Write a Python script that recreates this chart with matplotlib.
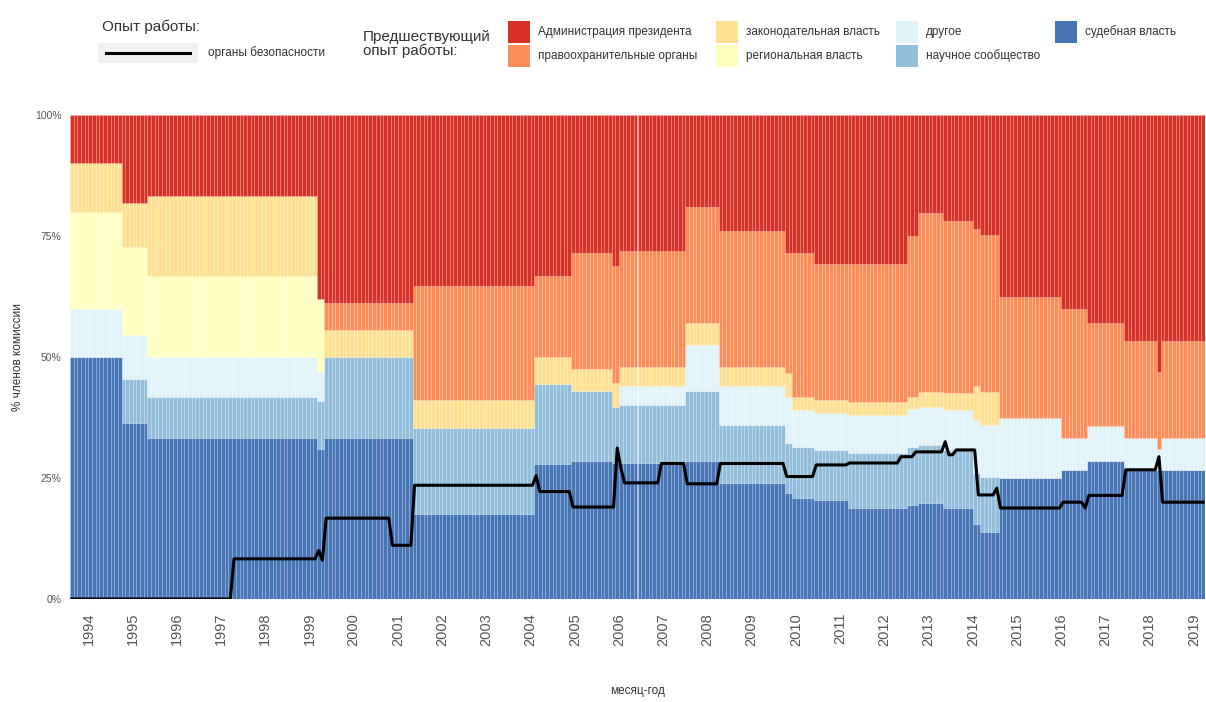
import numpy as np
import matplotlib
matplotlib.use("Agg")
import matplotlib.pyplot as plt
from matplotlib.patches import Rectangle
from matplotlib.lines import Line2D

plt.rcParams['font.family'] = ['Liberation Sans', 'DejaVu Sans']

# composition of the commission, piecewise by period (start = decimal year), % of members
seg_start = [1993.58, 1994.74, 1995.29, 1999.10, 1999.27, 2001.31, 2004.05, 2004.88, 2005.83,
             2006.00, 2007.48, 2008.20, 2009.69, 2009.85, 2010.37, 2011.13, 2012.49, 2012.71,
             2013.30, 2013.98, 2014.09, 2014.55, 2015.94, 2016.57, 2017.34, 2018.09, 2018.17]
judicial    = [50, 36.4, 33.3, 31, 33.3, 17.6, 27.8, 28.6, 28, 28, 28.6, 24, 21.8, 20.8, 20.5, 18.7,
               19.4, 19.8, 18.7, 15.5, 13.9, 25, 26.7, 28.6, 26.7, 26.7, 26.7]
science     = [0, 9.1, 8.4, 10, 16.7, 17.7, 16.6, 14.3, 11.7, 12, 14.3, 12, 10.4, 10.7, 10.3, 11.4,
               12.1, 12, 12.1, 10.5, 11.4, 0, 0, 0, 0, 0, 0]
other       = [10, 9.0, 8.3, 6, 0, 0, 0, 0, 0, 4, 9.5, 8, 9.6, 7.5, 7.6, 7.9,
               7.7, 7.9, 8.2, 11, 10.7, 12.5, 6.6, 7.1, 6.6, 4.3, 6.6]
regional    = [20, 18.2, 16.7, 15, 0, 0, 0, 0, 0, 0, 0, 0, 0, 0, 0, 0,
               0, 0, 0, 0, 0, 0, 0, 0, 0, 0, 0]
legislative = [10, 9.1, 16.6, 0, 5.6, 5.9, 5.6, 4.7, 4.9, 4, 4.7, 4, 4.8, 2.8, 2.7, 2.8,
               2.6, 3.1, 3.5, 7, 6.8, 0, 0, 0, 0, 0, 0]
law_enf     = [0, 0, 0, 0, 5.5, 23.5, 16.7, 23.8, 24.1, 24, 23.9, 28, 24.8, 29.6, 28.2, 28.5,
               33.1, 36.9, 35.5, 32.5, 32.4, 25, 26.7, 21.4, 20, 16, 20]
admin       = [10, 18.2, 16.7, 38, 38.9, 35.3, 33.3, 28.6, 31.3, 28, 19, 24, 28.6, 28.6, 30.7, 30.7,
               25.1, 20.3, 22, 23.5, 24.8, 37.5, 40, 42.9, 46.7, 53, 46.7]

# share with security-service background (black line)
line_start = [1993.58, 1997.25, 1999.10, 1999.19, 1999.30, 2000.77, 2001.31, 2004.05, 2004.13,
              2004.88, 2005.87, 2005.95, 2006.03, 2006.84, 2007.48, 2008.20, 2009.69, 2010.37,
              2011.13, 2012.33, 2012.62, 2013.27, 2013.35, 2013.55, 2014.03, 2014.47, 2014.55,
              2015.94, 2016.49, 2016.57, 2017.34, 2018.09, 2018.17, 2018.42, 2018.50]
security   = [0, 8.3, 10, 8, 16.7, 11.1, 23.5, 25.5, 22.2,
              19.0, 31.2, 27, 24, 28, 23.8, 28, 25.3, 27.7,
              28.1, 29.4, 30.4, 32.5, 29.8, 30.8, 21.5, 22.9, 18.8,
              20, 18.8, 21.4, 26.7, 29.4, 20, 18.8, 20]

cat_names = ["судебная власть", "научное сообщество", "другое", "региональная власть",
             "законодательная власть", "правоохранительные органы", "Администрация президента"]
cat_colors = ["#4575b4", "#91bfdb", "#e0f3f8", "#ffffbf", "#fee090", "#fc8d59", "#d73027"]
series = [judicial, science, other, regional, legislative, law_enf, admin]

years = list(range(1994, 2020))

# monthly grid Aug 1993 .. Mar 2019
months = 1993 + 7 / 12 + np.arange(308) / 12
idx = np.searchsorted(seg_start, months + 1e-6, side="right") - 1
lidx = np.searchsorted(line_start, months + 1e-6, side="right") - 1

fig = plt.figure(figsize=(12.06, 7.02), dpi=100)
ax = fig.add_axes([70 / 1206, 103 / 702, 1135 / 1206, 484 / 702])

bottom = np.zeros(len(months))
for vals, col in zip(series, cat_colors):
    h = np.array(vals)[idx]
    ax.bar(months, h, width=1 / 12, bottom=bottom, align="edge",
           color=col, edgecolor=(1, 1, 1, 0.18), linewidth=0.5)
    bottom += h

ax.plot(months + 1 / 24, np.array(security)[lidx], color="black", lw=2.2,
        solid_joinstyle="round")

ax.set_xlim(months[0], months[-1] + 1 / 12)
ax.set_ylim(0, 100)
for s in ax.spines.values():
    s.set_visible(False)
ax.set_yticks([0, 25, 50, 75, 100])
ax.set_yticklabels(["0%", "25%", "50%", "75%", "100%"], fontsize=7.5, color="#555555")
ax.set_xticks(years)
ax.set_xticklabels([str(y) for y in years], rotation=90, fontsize=10.5, color="#555555")
ax.tick_params(axis="both", length=0)
ax.tick_params(axis="x", pad=10)
ax.tick_params(axis="y", pad=6)
ax.set_xlabel("месяц-год", fontsize=8.5, color="#333333", labelpad=28)
ax.set_ylabel("% членов комиссии", fontsize=8.5, color="#333333", labelpad=8)


def fx(x):
    return x / 1206


def fy(y):
    return 1 - y / 702


# legend: line
fig.text(fx(102), fy(27), "Опыт работы:", fontsize=11, color="#333333", va="center")
fig.add_artist(Rectangle((fx(98), fy(63)), 100 / 1206, 20 / 702, transform=fig.transFigure,
                         color="#f0f0f0", lw=0))
fig.add_artist(Line2D([fx(106), fx(190)], [fy(53), fy(53)], transform=fig.transFigure,
                      color="black", lw=2.2))
fig.text(fx(208), fy(53), "органы безопасности", fontsize=8.5, color="#333333", va="center")

# legend: categories
fig.text(fx(363), fy(44), "Предшествующий\nопыт работы:", fontsize=11, color="#333333",
         va="center", linespacing=1.0)
legend_order = [6, 5, 4, 3, 2, 1, 0]
col_x = [508, 716, 896, 1055]
row_y = [21, 45]
for k, ci in enumerate(legend_order):
    c, r = divmod(k, 2)
    x0 = col_x[c]
    y0 = row_y[r]
    fig.add_artist(Rectangle((fx(x0), fy(y0 + 22)), 22 / 1206, 22 / 702,
                             transform=fig.transFigure, color=cat_colors[ci], lw=0))
    fig.text(fx(x0 + 30), fy(y0 + 11), cat_names[ci], fontsize=8.5, color="#333333",
             va="center")

fig.savefig("out.png", dpi=100)
